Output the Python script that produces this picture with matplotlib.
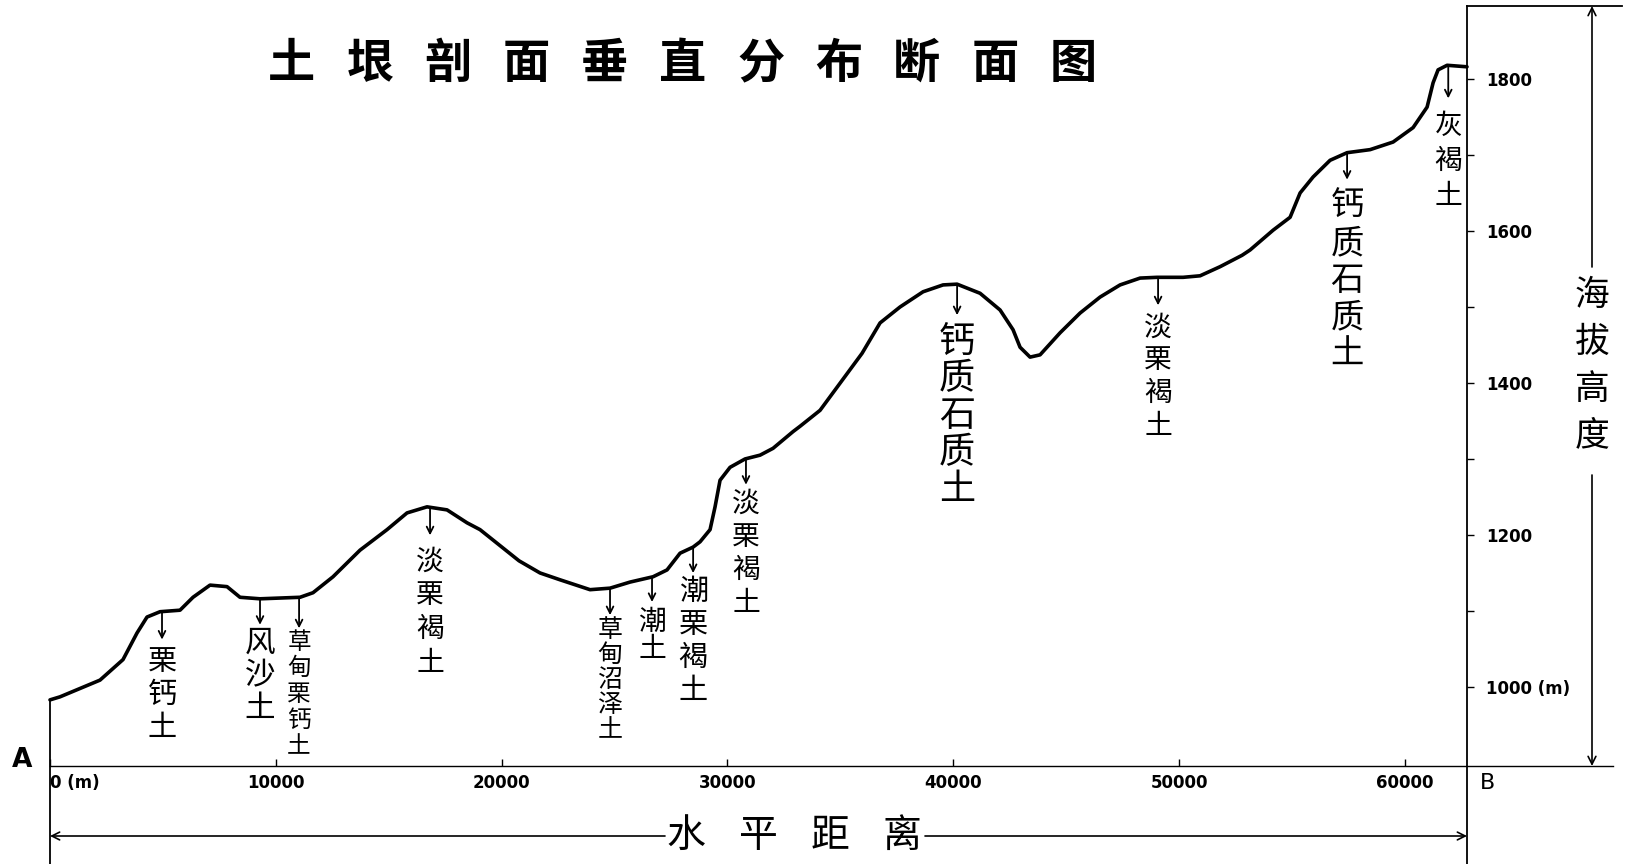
import numpy as np
import matplotlib
matplotlib.use('Agg')
import matplotlib.pyplot as plt
import matplotlib.transforms as mtransforms

plt.rcParams['font.family'] = ['Noto Sans CJK SC', 'DejaVu Sans']

# profile A-B: horizontal distance (m) and elevation (m)
dist = [0, 443, 2214, 3233, 3853, 4296, 4872, 5757, 6333, 7086, 7839, 8414,
        9300, 11072, 11647, 12533, 13729, 14925, 15810, 16696, 17582, 18467,
        19043, 20770, 21700, 22587, 23915, 24801, 25686, 26705, 27325, 27901,
        28477, 28787, 29230, 29451, 29672, 30115, 30779, 31444, 32019, 32905,
        33215, 34101, 35961, 36758, 37644, 38663, 39548, 40168, 41187, 42073,
        42648, 42958, 43401, 43844, 44730, 45616, 46501, 47387, 48273, 49026,
        50177, 50930, 51816, 52790, 53145, 54163, 54916, 55359, 55934, 56687,
        57440, 58459, 59477, 60363, 60983, 61249, 61470, 61869, 62750]
elev = [983, 987, 1009, 1036, 1071, 1092, 1099, 1101, 1118, 1134, 1132, 1118,
        1116, 1118, 1124, 1145, 1180, 1207, 1229, 1237, 1233, 1216,
        1207, 1166, 1150, 1141, 1128, 1130, 1138, 1145, 1154, 1176,
        1184, 1191, 1207, 1237, 1272, 1289, 1300, 1305, 1314, 1336,
        1343, 1364, 1439, 1479, 1500, 1520, 1529, 1530, 1518, 1496,
        1470, 1447, 1434, 1437, 1466, 1492, 1513, 1529, 1538, 1539,
        1539, 1541, 1553, 1568, 1575, 1601, 1618, 1650, 1671, 1693,
        1703, 1707, 1717, 1736, 1763, 1795, 1812, 1818, 1816]

# soil types along the profile
soil_x = [4960, 9300, 11030, 16830, 24800, 26660, 28480, 30820, 40170,
          49070, 57440, 61920]
soil_names = ['栗钙土', '风沙土', '草甸栗钙土', '淡栗褐土', '草甸沼泽土', '潮土',
              '潮栗褐土', '淡栗褐土', '钙质石质土', '淡栗褐土', '钙质石质土', '灰褐土']

x_ticks = [0, 10000, 20000, 30000, 40000, 50000, 60000]
x_ticklabels = ['0 (m)', '10000', '20000', '30000', '40000', '50000', '60000']
y_ticks = [1000, 1200, 1400, 1600, 1800]
y_ticklabels = ['1000 (m)', '1200', '1400', '1600', '1800']
y_minor = [1100, 1300, 1500, 1700]

title_chars = '土垠剖面垂直分布断面图'
xlabel_chars = '水平距离'
ylabel_chars = '海拔高度'

# label layout: arrow length, first char offset, char pitch (px), font size
label_style = [(28, 50, 33, 21), (26, 44, 33, 22), (31, 45, 26, 17),
               (28, 54, 34, 20), (27, 42, 25, 18), (25, 45, 27, 20),
               (26, 45, 33, 21), (26, 45, 33, 20), (31, 58, 37, 26),
               (28, 50, 33, 20), (27, 54, 37, 24), (33, 61, 35, 20)]

W, H = 1628, 864
fig = plt.figure(figsize=(W / 100, H / 100), dpi=100)
pxt = mtransforms.Affine2D().scale(1 / W, -1 / H).translate(0, 1) + fig.transFigure

ax = fig.add_axes([50 / W, (H - 766) / H, 1417 / W, 760 / H])
ax.set_xlim(0, 62750)
ax.set_ylim(896, 1896)
for s in ax.spines.values():
    s.set_visible(False)

ax.plot(dist, elev, color='black', lw=2.6, solid_joinstyle='round',
        solid_capstyle='round', clip_on=False)

# ticks
ax.set_xticks(x_ticks, x_ticklabels)
ax.tick_params(axis='x', direction='in', length=5, width=1, pad=6,
               labelsize=12)
ax.yaxis.tick_right()
ax.set_yticks(y_ticks, y_ticklabels)
ax.set_yticks(y_minor, minor=True)
ax.tick_params(axis='y', which='both', direction='out', length=5, width=1,
               pad=9, labelsize=12)
for lab in ax.get_xticklabels() + ax.get_yticklabels():
    lab.set_fontweight('bold')
    lab.set_family('DejaVu Sans')
ax.get_xticklabels()[0].set_ha('left')

# soil labels with arrows
for d, name, st in zip(soil_x, soil_names, label_style):
    L, first, pitch, fs = st
    e = np.interp(d, dist, elev)
    ax.annotate('', xy=(d, e), xytext=(0, -L * 0.72), textcoords='offset points',
                arrowprops=dict(arrowstyle='<-', lw=1.3, color='black',
                                shrinkA=0, shrinkB=0, mutation_scale=12))
    for i, ch in enumerate(name):
        ax.annotate(ch, xy=(d, e), xytext=(0, -(first + i * pitch) * 0.72),
                    textcoords='offset points', ha='center', va='center',
                    fontsize=fs, fontweight='medium')

# frame lines (pixel coords)
ax.plot([50, 1613], [766, 766], color='black', lw=1, transform=pxt, clip_on=False)
ax.plot([1467, 1467], [6, 864], color='black', lw=1.3, transform=pxt, clip_on=False)
ax.plot([1467, 1622], [6, 6], color='black', lw=1.3, transform=pxt, clip_on=False)
ax.plot([50, 50], [700, 864], color='black', lw=1.3, transform=pxt, clip_on=False)

arr = dict(arrowstyle='->', lw=1.2, color='black', shrinkA=0, shrinkB=0,
           mutation_scale=14)
ax.annotate('', xy=(50, 836), xycoords=pxt, xytext=(665, 836), textcoords=pxt,
            arrowprops=arr)
ax.annotate('', xy=(1467, 836), xycoords=pxt, xytext=(925, 836), textcoords=pxt,
            arrowprops=arr)
ax.annotate('', xy=(1592, 6), xycoords=pxt, xytext=(1592, 267), textcoords=pxt,
            arrowprops=arr)
ax.annotate('', xy=(1592, 766), xycoords=pxt, xytext=(1592, 475), textcoords=pxt,
            arrowprops=arr)

# texts
fig.text(22, 760, 'A', transform=pxt, ha='center', va='center', fontsize=19,
         fontweight='bold', family='DejaVu Sans')
fig.text(1487, 783, 'B', transform=pxt, ha='center', va='center', fontsize=16,
         family='DejaVu Sans')
for i, ch in enumerate(xlabel_chars):
    fig.text(686 + i * 72, 836, ch, transform=pxt, ha='center', va='center',
             fontsize=28)
for i, ch in enumerate(ylabel_chars):
    fig.text(1592, 295 + i * 47, ch, transform=pxt, ha='center', va='center',
             fontsize=25)
for i, ch in enumerate(title_chars):
    fig.text(292 + i * 78.1, 64, ch, transform=pxt, ha='center', va='center',
             fontsize=34, fontweight='bold')

fig.savefig('out.png', dpi=100, facecolor='white')
